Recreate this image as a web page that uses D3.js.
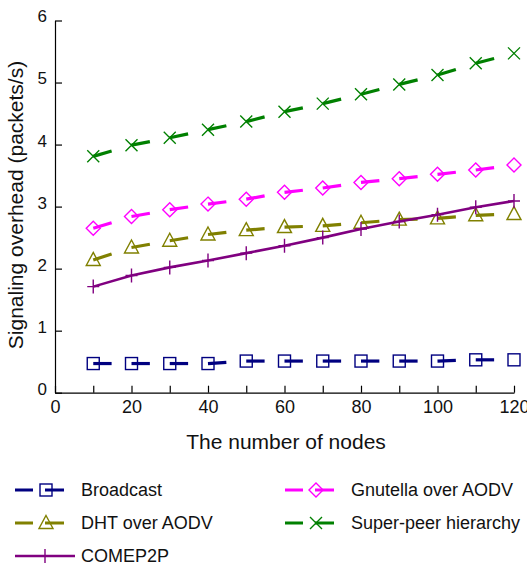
<!DOCTYPE html>
<html>
<head>
<meta charset="utf-8">
<script src="https://cdn.jsdelivr.net/npm/d3@7"></script>
<style>
  body { margin: 0; background: #fff; }
  svg { font-family: "Liberation Sans", Arial, sans-serif; }
</style>
</head>
<body>
<svg id="chart" width="527" height="567"></svg>
<script>
const nodes = [10, 20, 30, 40, 50, 60, 70, 80, 90, 100, 110, 120];
const broadcast = [0.47, 0.47, 0.47, 0.47, 0.51, 0.51, 0.51, 0.51, 0.51, 0.51, 0.53, 0.53];
const dht = [2.14, 2.34, 2.45, 2.55, 2.62, 2.67, 2.69, 2.74, 2.79, 2.81, 2.86, 2.88];
const comep2p = [1.71, 1.89, 2.02, 2.13, 2.25, 2.37, 2.50, 2.64, 2.76, 2.87, 2.99, 3.09];
const gnutella = [2.65, 2.84, 2.95, 3.04, 3.12, 3.23, 3.30, 3.39, 3.45, 3.52, 3.59, 3.67];
const superPeer = [3.81, 3.99, 4.11, 4.24, 4.37, 4.53, 4.66, 4.81, 4.97, 5.12, 5.31, 5.47];
const xTicks = [0, 10, 20, 30, 40, 50, 60, 70, 80, 90, 100, 110, 120];
const xLabels = [0, 20, 40, 60, 80, 100, 120];
const yTicks = [0, 1, 2, 3, 4, 5, 6];

const series = [
  { name: "Broadcast", values: broadcast, color: "#000080", marker: "square", dashed: true },
  { name: "Gnutella over AODV", values: gnutella, color: "#ff00ff", marker: "diamond", dashed: true },
  { name: "DHT over AODV", values: dht, color: "#808000", marker: "triangle", dashed: true },
  { name: "Super-peer hierarchy", values: superPeer, color: "#008000", marker: "x", dashed: true },
  { name: "COMEP2P", values: comep2p, color: "#800080", marker: "plus", dashed: false }
];

const svg = d3.select("#chart");
const x = d3.scaleLinear().domain([0, 120]).range([55, 514]);
const y = d3.scaleLinear().domain([0, 6]).range([392.7, 20.5]);

// axes, ticks pointing inward
const xAxis = svg.append("g")
    .attr("transform", `translate(0,${y(0)})`)
    .call(d3.axisBottom(x).tickValues(xTicks)
        .tickFormat(d => xLabels.includes(d) ? d : "")
        .tickSizeInner(-7).tickSizeOuter(0).tickPadding(8));
const yAxis = svg.append("g")
    .attr("transform", `translate(${x(0)},0)`)
    .call(d3.axisLeft(y).tickValues(yTicks).tickFormat(d3.format("d"))
        .tickSizeInner(-7).tickSizeOuter(0).tickPadding(8));
[xAxis, yAxis].forEach(a => {
    a.select(".domain").attr("stroke", "#000").attr("stroke-width", 1.2);
    a.selectAll(".tick line").attr("stroke", "#000").attr("stroke-width", 1.2);
    a.selectAll(".tick text").attr("fill", "#111")
        .attr("font-family", "Liberation Sans, Arial, sans-serif");
});
xAxis.selectAll(".tick text").attr("font-size", 18);
yAxis.selectAll(".tick text").attr("font-size", 17).attr("y", -4);

svg.append("text")
    .attr("x", 286).attr("y", 449)
    .attr("text-anchor", "middle").attr("font-size", 21).attr("fill", "#111")
    .text("The number of nodes");
svg.append("text")
    .attr("transform", "translate(23,205) rotate(-90)")
    .attr("text-anchor", "middle").attr("font-size", 21).attr("fill", "#111")
    .text("Signaling overhead (packets/s)");

function drawMarker(g, type, cx, cy, color) {
    const s = 6;
    if (type === "square") {
        g.append("rect").attr("x", cx - s).attr("y", cy - s).attr("width", 2 * s).attr("height", 2 * s)
            .attr("fill", "none").attr("stroke", color).attr("stroke-width", 1.4);
    } else if (type === "diamond") {
        g.append("path").attr("d", `M${cx},${cy - 7}L${cx + 7},${cy}L${cx},${cy + 7}L${cx - 7},${cy}Z`)
            .attr("fill", "none").attr("stroke", color).attr("stroke-width", 1.4);
    } else if (type === "triangle") {
        g.append("path").attr("d", `M${cx},${cy - 7.5}L${cx + 7},${cy + 5.5}L${cx - 7},${cy + 5.5}Z`)
            .attr("fill", "none").attr("stroke", color).attr("stroke-width", 1.4);
    } else if (type === "x") {
        g.append("path").attr("d", `M${cx - 6},${cy - 6}L${cx + 6},${cy + 6}M${cx - 6},${cy + 6}L${cx + 6},${cy - 6}`)
            .attr("fill", "none").attr("stroke", color).attr("stroke-width", 1.4);
    } else if (type === "plus") {
        g.append("path").attr("d", `M${cx - 6},${cy}L${cx + 6},${cy}M${cx},${cy - 7}L${cx},${cy + 7}`)
            .attr("fill", "none").attr("stroke", color).attr("stroke-width", 1.4);
    }
}

const plot = svg.append("g");
series.forEach(s => {
    const g = plot.append("g");
    const pts = nodes.map((n, i) => [x(n), y(s.values[i])]);
    if (s.dashed) {
        // one dash per segment, starting at each point
        for (let i = 0; i < pts.length - 1; i++) {
            const [x1, y1] = pts[i], [x2, y2] = pts[i + 1];
            const f = 0.48;
            g.append("line")
                .attr("x1", x1).attr("y1", y1)
                .attr("x2", x1 + (x2 - x1) * f).attr("y2", y1 + (y2 - y1) * f)
                .attr("stroke", s.color).attr("stroke-width", 3.2);
        }
    } else {
        g.append("path").datum(pts)
            .attr("d", d3.line())
            .attr("fill", "none").attr("stroke", s.color).attr("stroke-width", 2.6);
    }
    pts.forEach(p => drawMarker(g, s.marker, p[0], p[1], s.color));
});

// legend
const legendItems = [
    { s: series[0], lx: 15, ly: 490 },
    { s: series[1], lx: 285, ly: 490 },
    { s: series[2], lx: 15, ly: 523 },
    { s: series[3], lx: 285, ly: 523 },
    { s: series[4], lx: 15, ly: 556 }
];
const legend = svg.append("g");
legendItems.forEach(({ s, lx, ly }) => {
    const g = legend.append("g");
    const len = s.dashed ? 49 : 60;
    g.append("line").attr("x1", lx).attr("x2", lx + len).attr("y1", ly).attr("y2", ly)
        .attr("stroke", s.color).attr("stroke-width", s.dashed ? 3.2 : 2.6);
    if (s.dashed) g.select("line").clone().attr("x1", lx + 18).attr("x2", lx + 30).attr("stroke", "#fff").attr("stroke-width", 4);
    drawMarker(g, s.marker, lx + 31 - (s.dashed ? 0 : 1), ly, s.color);
    g.append("text").attr("x", lx + 66).attr("y", ly + 6)
        .attr("font-size", 18).attr("fill", "#111").text(s.name);
});
</script>
</body>
</html>
